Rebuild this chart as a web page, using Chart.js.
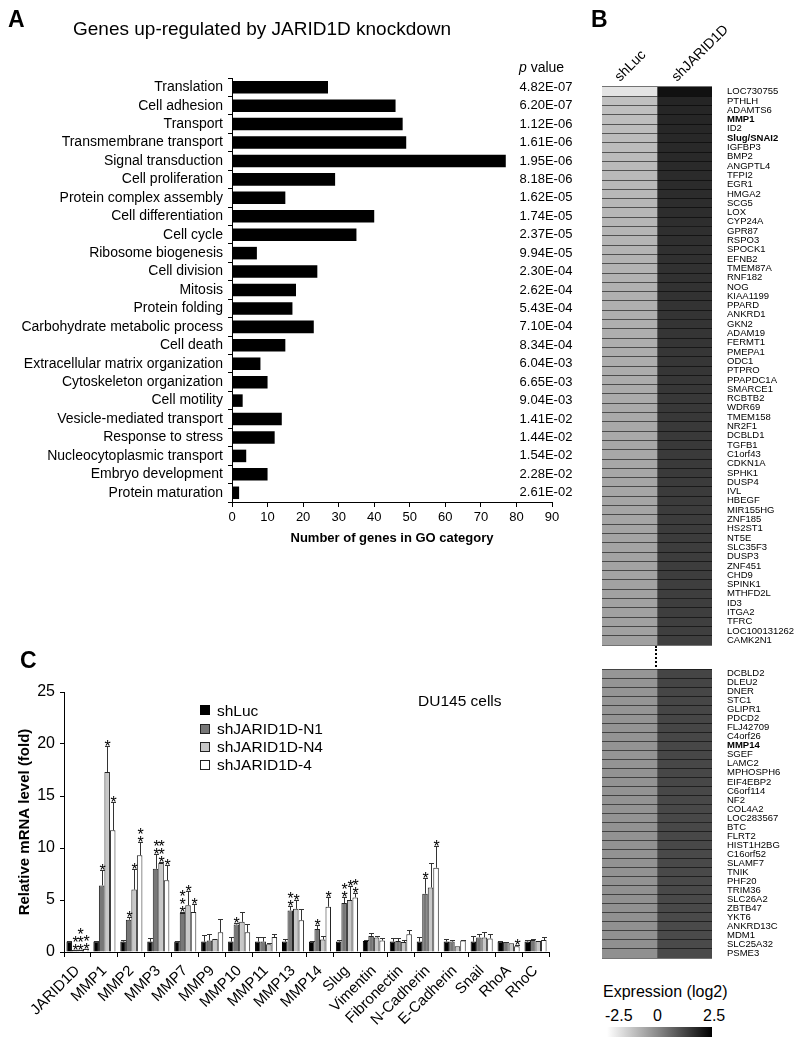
<!DOCTYPE html>
<html><head><meta charset="utf-8">
<script src="https://cdn.jsdelivr.net/npm/chart.js@4.4.1/dist/chart.umd.min.js"></script>
<style>
body{margin:0;background:#fff;width:800px;height:1043px;position:relative;overflow:hidden;font-family:"Liberation Sans",Arial,sans-serif;color:#000;}
canvas{position:absolute;}
.t{position:absolute;white-space:nowrap;z-index:5;}
.box{position:absolute;z-index:5;box-sizing:border-box;}
</style></head><body>
<canvas id="cA" width="590" height="560" style="left:0;top:0;width:590px;height:560px"></canvas>
<canvas id="cB1" width="205" height="572" style="left:595px;top:80px;width:205px;height:572px"></canvas>
<canvas id="cB2" width="205" height="303" style="left:595px;top:662px;width:205px;height:303px"></canvas>
<canvas id="cC" width="560" height="403" style="left:0;top:640px;width:560px;height:403px"></canvas>
<div class="box" style="left:655px;top:646px;width:0;height:21px;border-left:2px dotted #000"></div>
<div class="box" style="left:607px;top:1027px;width:105px;height:10px;background:linear-gradient(to right,#ffffff,#8a8a8a 48%,#000000)"></div>
<div class="box" style="left:200px;top:705px;width:10px;height:10px;background:#000"></div>
<div class="box" style="left:200px;top:724px;width:10px;height:10px;background:#777;border:1px solid #222"></div>
<div class="box" style="left:200px;top:742px;width:10px;height:10px;background:#c8c8c8;border:1px solid #222"></div>
<div class="box" style="left:200px;top:760px;width:10px;height:10px;background:#fff;border:1px solid #222"></div>
<script>
// ---------- Panel A data ----------
const goTerms = ["Translation","Cell adhesion","Transport","Transmembrane transport","Signal transduction","Cell proliferation","Protein complex assembly","Cell differentiation","Cell cycle","Ribosome biogenesis","Cell division","Mitosis","Protein folding","Carbohydrate metabolic process","Cell death","Extracellular matrix organization","Cytoskeleton organization","Cell motility","Vesicle-mediated transport","Response to stress","Nucleocytoplasmic transport","Embryo development","Protein maturation"];
const goCounts = [27,46,48,49,77,29,15,40,35,7,24,18,17,23,15,8,10,3,14,12,4,10,2];
const goPValues = ["4.82E-07","6.20E-07","1.12E-06","1.61E-06","1.95E-06","8.18E-06","1.62E-05","1.74E-05","2.37E-05","9.94E-05","2.30E-04","2.62E-04","5.43E-04","7.10E-04","8.34E-04","6.04E-03","6.65E-03","9.04E-03","1.41E-02","1.44E-02","1.54E-02","2.28E-02","2.61E-02"];

// ---------- Panel B data ----------
const heatColumns = ["shLuc","shJARID1D"];
const genesTop = ["LOC730755","PTHLH","ADAMTS6","MMP1","ID2","Slug/SNAI2","IGFBP3","BMP2","ANGPTL4","TFPI2","EGR1","HMGA2","SCG5","LOX","CYP24A","GPR87","RSPO3","SPOCK1","EFNB2","TMEM87A","RNF182","NOG","KIAA1199","PPARD","ANKRD1","GKN2","ADAM19","FERMT1","PMEPA1","ODC1","PTPRO","PPAPDC1A","SMARCE1","RCBTB2","WDR69","TMEM158","NR2F1","DCBLD1","TGFB1","C1orf43","CDKN1A","SPHK1","DUSP4","IVL","HBEGF","MIR155HG","ZNF185","HS2ST1","NT5E","SLC35F3","DUSP3","ZNF451","CHD9","SPINK1","MTHFD2L","ID3","ITGA2","TFRC","LOC100131262","CAMK2N1"];
const genesBottom = ["DCBLD2","DLEU2","DNER","STC1","GLIPR1","PDCD2","FLJ42709","C4orf26","MMP14","SGEF","LAMC2","MPHOSPH6","EIF4EBP2","C6orf114","NF2","COL4A2","LOC283567","BTC","FLRT2","HIST1H2BG","C16orf52","SLAMF7","TNIK","PHF20","TRIM36","SLC26A2","ZBTB47","YKT6","ANKRD13C","MDM1","SLC25A32","PSME3"];
const boldGenes = ["MMP1","Slug/SNAI2","MMP14"];
const shLucTop = [-1.97,-1.26,-1.24,-1.22,-1.21,-1.19,-1.18,-1.16,-1.15,-1.13,
 -1.12,-1.10,-1.09,-1.08,-1.06,-1.05,-1.04,-1.02,-1.01,-1.00,
 -0.99,-0.97,-0.96,-0.95,-0.94,-0.93,-0.92,-0.91,-0.90,-0.89,
 -0.88,-0.87,-0.86,-0.85,-0.84,-0.83,-0.82,-0.81,-0.80,-0.79,
 -0.78,-0.77,-0.76,-0.75,-0.74,-0.74,-0.73,-0.72,-0.71,-0.71,
 -0.70,-0.69,-0.69,-0.68,-0.67,-0.67,-0.66,-0.66,-0.65,-0.64];
const shJaridTop = [2.17,1.78,1.76,1.75,1.73,1.72,1.70,1.69,1.67,1.66,
 1.65,1.63,1.62,1.61,1.60,1.58,1.57,1.56,1.55,1.54,
 1.53,1.52,1.51,1.50,1.49,1.48,1.47,1.46,1.45,1.44,
 1.44,1.43,1.42,1.41,1.40,1.40,1.39,1.38,1.38,1.37,
 1.36,1.36,1.35,1.35,1.34,1.33,1.33,1.32,1.32,1.31,
 1.31,1.30,1.30,1.29,1.29,1.28,1.28,1.27,1.27,1.26];
const shLucBottom = [-0.44,-0.43,-0.43,-0.42,-0.42,-0.41,-0.41,-0.41,-0.40,-0.40,
 -0.40,-0.39,-0.39,-0.39,-0.38,-0.38,-0.38,-0.37,-0.37,-0.37,
 -0.36,-0.36,-0.36,-0.36,-0.35,-0.35,-0.35,-0.34,-0.34,-0.34,-0.33,-0.33];
const shJaridBottom = [1.14,1.14,1.13,1.13,1.12,1.12,1.12,1.11,1.11,1.11,
 1.10,1.10,1.10,1.09,1.09,1.09,1.08,1.08,1.08,1.08,
 1.07,1.07,1.07,1.06,1.06,1.06,1.06,1.05,1.05,1.05,1.04,1.04];
const expressionTicks = ["-2.5","0","2.5"];

// ---------- Panel C data ----------
const qpcrGenes = ["JARID1D","MMP1","MMP2","MMP3","MMP7","MMP9","MMP10","MMP11","MMP13","MMP14","Slug","Vimentin","Fibronectin","N-Cadherin","E-Cadherin","Snail","RhoA","RhoC"];
const seriesNames = ["shLuc","shJARID1D-N1","shJARID1D-N4","shJARID1D-4"];
const shLucVals = [1.0,1.0,1.0,1.0,1.0,1.0,1.0,1.0,1.0,1.0,1.0,1.05,1.0,1.0,1.0,1.0,1.0,1.0];
const shLucErr  = [0.05,0.05,0.2,0.35,0.05,0.65,0.45,0.4,0.25,0.05,0.2,0.1,0.35,0.4,0.25,0.5,0.1,0.2];
const n1Vals = [0.2,6.4,3.1,8.0,3.75,1.1,2.65,1.0,4.0,2.2,4.7,1.55,1.05,5.6,1.0,1.4,0.95,1.15];
const n1Err  = [0.02,1.5,0.25,1.4,0.12,0.6,0.12,0.4,0.4,0.4,0.55,0.25,0.3,1.55,0.2,0.3,0.05,0.1];
const n4Vals = [0.2,17.3,6.0,8.55,4.5,1.25,2.9,0.75,4.15,1.2,5.0,1.4,0.95,6.2,0.55,1.4,0.85,1.05];
const n4Err  = [0.02,2.5,1.95,0.1,1.4,0.0,0.9,0.12,0.85,0.3,1.3,0.15,0.25,2.4,0.0,0.5,0.0,0.0];
const kd4Vals = [0.3,11.7,9.3,6.9,3.85,1.9,1.9,1.45,3.05,4.35,5.25,1.1,1.7,8.1,1.1,1.3,0.55,1.15];
const kd4Err  = [0.02,2.7,1.3,1.5,0.8,1.3,0.8,0.3,1.1,0.9,0.4,0.2,0.4,2.1,0.05,0.45,0.15,0.3];
const n1Stars  = [2,1,1,2,3,0,1,0,2,1,2,0,0,1,0,0,0,0];
const n4Stars  = [3,1,1,3,1,0,0,0,1,0,1,0,0,0,0,0,0,0];
const kd4Stars = [2,1,2,1,1,0,0,0,0,1,2,0,0,1,0,0,1,0];

const FONT = "'Liberation Sans', Arial, sans-serif";
Chart.defaults.font.family = FONT;
Chart.defaults.color = '#000';
Chart.defaults.animation = false;
Chart.defaults.responsive = false;
Chart.defaults.devicePixelRatio = 1;
Chart.defaults.plugins.legend.display = false;
Chart.defaults.plugins.tooltip.enabled = false;

// ---------- static text helper ----------
function txt(s, x, base, size, opt) {
  opt = opt || {};
  const d = document.createElement('div');
  d.className = 't';
  d.innerHTML = s;
  d.style.left = x + 'px';
  d.style.top = (base - 0.8465 * size) + 'px';
  d.style.fontSize = size + 'px';
  d.style.lineHeight = size + 'px';
  if (opt.bold) d.style.fontWeight = 'bold';
  if (opt.rot) { d.style.transformOrigin = '0px ' + (0.8465 * size) + 'px'; d.style.transform = 'rotate(' + opt.rot + 'deg)'; }
  document.body.appendChild(d);
}
txt('A', 8, 27, 23, {bold:true});
txt('Genes up-regulated by JARID1D knockdown', 73, 35, 19);
txt('<i>p</i> value', 519, 72, 14);
txt('B', 591, 27, 23, {bold:true});
txt(heatColumns[0], 620, 82, 14, {rot:-45});
txt(heatColumns[1], 677, 82, 14, {rot:-45});
txt('Expression (log2)', 603, 998, 16);
txt(expressionTicks[0], 605, 1022, 16);
txt(expressionTicks[1], 653, 1022, 16);
txt(expressionTicks[2], 703, 1022, 16);
txt('C', 20, 668, 23, {bold:true});
txt('DU145 cells', 418, 706, 15.5);
seriesNames.forEach((n, i) => txt(n, 217, 716 + i * 18, 15.5));

// ---------- Panel A ----------
const pValuePlugin = {
  id: 'pvals',
  afterDraw(chart) {
    const ctx = chart.ctx, ys = chart.scales.y;
    ctx.save();
    ctx.font = '13px ' + FONT; ctx.fillStyle = '#000';
    ctx.textAlign = 'center'; ctx.textBaseline = 'middle';
    goPValues.forEach((p, i) => ctx.fillText(p, 546, ys.getPixelForValue(i)));
    ctx.restore();
  }
};
new Chart(document.getElementById('cA'), {
  type: 'bar',
  data: { labels: goTerms, datasets: [{ data: goCounts, backgroundColor: '#000', barPercentage: 0.68, categoryPercentage: 1 }] },
  options: {
    indexAxis: 'y',
    layout: { padding: { left: 0, right: 38, top: 78, bottom: 0 } },
    scales: {
      x: {
        min: 0, max: 90,
        ticks: { stepSize: 10, font: { size: 13 }, padding: 3, color: '#000' },
        grid: { display: true, drawOnChartArea: false, tickLength: 5, color: '#000' },
        border: { display: true, color: '#000', width: 1 },
        title: { display: true, text: 'Number of genes in GO category', font: { size: 13, weight: 'bold' }, padding: { top: 0, bottom: 14 }, color: '#000' },
        afterFit: s => { s.height = 58; }
      },
      y: {
        ticks: { autoSkip: false, font: { size: 14 }, padding: 5, color: '#000' },
        grid: { display: true, drawOnChartArea: false, offset: true, tickLength: 4, color: '#000' },
        border: { display: true, color: '#000', width: 1 },
        afterFit: s => { s.width = 232; }
      }
    }
  },
  plugins: [pValuePlugin]
});

// ---------- Panel B ----------
function grayFor(v) {
  const g = Math.max(0, Math.min(255, Math.round(255 * (2.5 - v) / 5)));
  return 'rgb(' + g + ',' + g + ',' + g + ')';
}
function heatmap(id, genes, lucVals, jarVals) {
  new Chart(document.getElementById(id), {
    type: 'bar',
    data: {
      labels: genes,
      datasets: [
        { data: lucVals.map(() => [0, 1]), backgroundColor: lucVals.map(grayFor), barPercentage: 1, categoryPercentage: 1, grouped: false, borderWidth: 0 },
        { data: jarVals.map(() => [1, 2]), backgroundColor: jarVals.map(grayFor), barPercentage: 1, categoryPercentage: 1, grouped: false, borderWidth: 0 }
      ]
    },
    options: {
      indexAxis: 'y',
      layout: { padding: { left: 7, right: 0, top: 7, bottom: 7 } },
      scales: {
        x: { display: false, min: 0, max: 2 },
        y: {
          position: 'right',
          ticks: {
            autoSkip: false, padding: 0, color: '#000',
            font: c => ({ family: FONT, size: 9.5, lineHeight: 1, weight: (c.tick && boldGenes.includes(c.tick.label)) ? 'bold' : 'normal' })
          },
          grid: { display: true, z: 1, drawOnChartArea: true, drawTicks: true, tickLength: 15, tickColor: 'rgba(0,0,0,0)', offset: true, color: 'rgba(0,0,0,0.55)', lineWidth: 1 },
          border: { display: false },
          afterFit: s => { s.width = 88; }
        }
      }
    }
  });
}
heatmap('cB1', genesTop, shLucTop, shJaridTop);
heatmap('cB2', genesBottom, shLucBottom, shJaridBottom);

// ---------- Panel C ----------
const errStarPlugin = {
  id: 'errStar',
  afterDatasetsDraw(chart) {
    const ctx = chart.ctx, ys = chart.scales.y;
    chart.data.datasets.forEach((ds, di) => {
      const meta = chart.getDatasetMeta(di);
      meta.data.forEach((bar, i) => {
        const v = ds.data[i], e = ds.err[i];
        const x = Math.round(bar.x) + 0.5;
        const yTop = Math.round(ys.getPixelForValue(v + e)) + 0.5;
        ctx.save();
        ctx.strokeStyle = '#333'; ctx.lineWidth = 1;
        if (e > 0) {
          ctx.beginPath();
          ctx.moveTo(x, bar.y); ctx.lineTo(x, yTop);
          ctx.moveTo(x - 2.5, yTop); ctx.lineTo(x + 2.5, yTop);
          ctx.stroke();
        }
        const n = ds.stars ? ds.stars[i] : 0;
        ctx.fillStyle = '#000'; ctx.font = '16px ' + FONT;
        ctx.textAlign = 'center'; ctx.textBaseline = 'alphabetic';
        for (let k = 0; k < n; k++) ctx.fillText('*', x, yTop - 2 - k * 8 + 7);
        ctx.restore();
      });
    });
  }
};
const barCommon = { categoryPercentage: 0.82, barPercentage: 1.0, borderWidth: 1, borderColor: '#222', borderSkipped: 'bottom' };
new Chart(document.getElementById('cC'), {
  type: 'bar',
  data: {
    labels: qpcrGenes,
    datasets: [
      Object.assign({ label: seriesNames[0], data: shLucVals, err: shLucErr, backgroundColor: '#000' }, barCommon, { borderColor: '#000' }),
      Object.assign({ label: seriesNames[1], data: n1Vals, err: n1Err, stars: n1Stars, backgroundColor: '#777' }, barCommon),
      Object.assign({ label: seriesNames[2], data: n4Vals, err: n4Err, stars: n4Stars, backgroundColor: '#c8c8c8' }, barCommon),
      Object.assign({ label: seriesNames[3], data: kd4Vals, err: kd4Err, stars: kd4Stars, backgroundColor: '#fff' }, barCommon)
    ]
  },
  options: {
    layout: { padding: { left: 0, right: 11, top: 52, bottom: 0 } },
    scales: {
      x: {
        ticks: { autoSkip: false, minRotation: 45, maxRotation: 45, font: { size: 15 }, padding: 5, color: '#000' },
        grid: { display: true, drawOnChartArea: false, offset: true, tickLength: 5, color: '#000' },
        border: { display: true, color: '#000', width: 1 },
        afterFit: s => { s.height = 91; }
      },
      y: {
        min: 0, max: 25,
        ticks: { stepSize: 5, font: { size: 16 }, padding: 5, color: '#000' },
        grid: { display: true, drawOnChartArea: false, tickLength: 4, color: '#000' },
        border: { display: true, color: '#000', width: 1 },
        title: { display: true, text: 'Relative mRNA level (fold)', font: { size: 15, weight: 'bold' }, padding: { top: 16, bottom: 0 }, color: '#000' },
        afterFit: s => { s.width = 64; }
      }
    }
  },
  plugins: [errStarPlugin]
});
</script>
</body></html>
